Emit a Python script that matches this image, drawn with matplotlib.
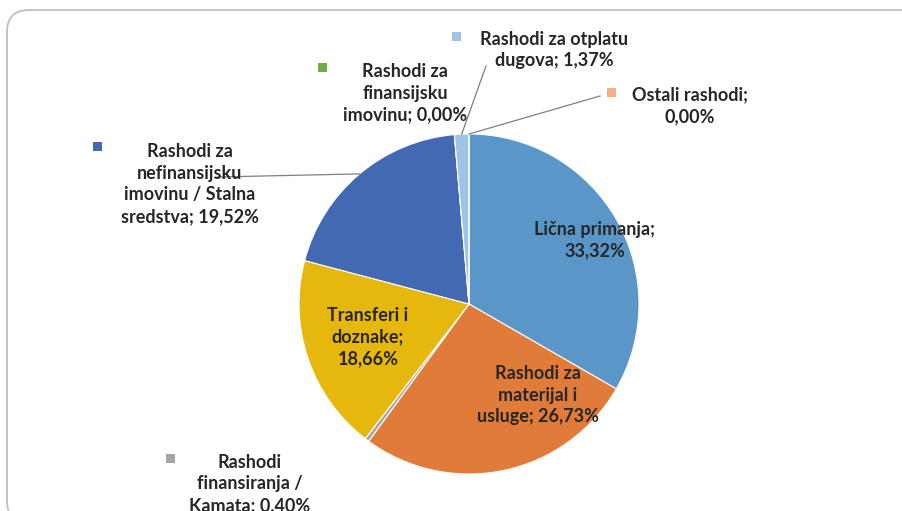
import matplotlib.pyplot as plt
from matplotlib.patches import FancyBboxPatch, Rectangle
from matplotlib.transforms import IdentityTransform
import numpy as np

# slice data, clockwise from 12 o'clock
names = ['Lična primanja', 'Rashodi za\nmaterijal i\nusluge', 'Rashodi\nfinansiranja /\nKamata',
         'Transferi i\ndoznake', 'Rashodi za\nnefinansijsku\nimovinu / Stalna\nsredstva',
         'Rashodi za\nfinansijsku\nimovinu', 'Rashodi za otplatu\ndugova', 'Ostali rashodi']
values = [33.32, 26.73, 0.40, 18.66, 19.52, 0.00, 1.37, 0.00]
colors = ['#5B96C8', '#E07B39', '#A5A5A5', '#E6B70C', '#4269B2', '#70AD47', '#9DC3E6', '#F4B183']

W, H = 902, 511
plt.rcParams['font.family'] = ['Lato', 'DejaVu Sans']

def fp(x, y):
    # pixel (from top-left) -> figure fraction
    return (x / W, 1 - y / H)

def label(i):
    v = ('%.2f' % values[i]).replace('.', ',')
    n = names[i]
    if i in (0, 3, 7):
        return n + ';\n' + v + '%'
    return n + '; ' + v + '%'

fig = plt.figure(figsize=(W / 100, H / 100), dpi=100)

# rounded frame, runs off the right and bottom edges
frame = FancyBboxPatch((7, -12), 3000, H - 10 + 12, boxstyle='round,pad=0,rounding_size=22',
                       transform=IdentityTransform(), facecolor='none', edgecolor='#BFBFBF',
                       linewidth=1.3)
fig.patches.append(frame)

cx, cy, r = 469, 304, 170
ax = fig.add_axes([(cx - r) / W, (H - cy - r) / H, 2 * r / W, 2 * r / H])
ax.pie(values, colors=colors, startangle=90, counterclock=False, radius=1,
       wedgeprops=dict(edgecolor='white', linewidth=0.8))
ax.set_xlim(-1, 1)
ax.set_ylim(-1, 1)
ax.set_aspect('equal')
ax.axis('off')

tkw = dict(fontsize=13, fontweight='bold', color='#262626', ha='center', va='center', linespacing=1.33)

# labels inside slices
for i, (x, y) in {0: (595, 240), 1: (538, 395), 3: (368, 337)}.items():
    fig.text(*fp(x, y), label(i), **tkw)

# outside labels with legend keys
outside = {4: ((190, 184), (97, 147)), 5: ((405, 93), (322, 68)), 6: ((554, 50), (456, 37)),
           7: ((690, 106), (611, 93)), 2: ((250, 484), (170, 458))}
for i, ((x, y), (mx, my)) in outside.items():
    fig.text(*fp(x, y), label(i), **tkw)
    fig.patches.append(Rectangle(fp(mx - 4.5, my + 4.5), 9 / W, 9 / H, transform=fig.transFigure,
                                 facecolor=colors[i], edgecolor='none'))

# leader lines
cum = np.cumsum([0] + values)
def edge(i):
    a = np.deg2rad(90 - (cum[i] + values[i] / 2) * 3.6)
    return (np.cos(a), np.sin(a))

lines = {4: [(217, 177)], 6: [(486, 66)], 7: [(600, 96)]}
for i, pts in lines.items():
    ex, ey = edge(i)
    p = fig.transFigure.inverted().transform(ax.transData.transform((ex, ey)))
    xs = [fp(*q)[0] for q in pts] + [p[0]]
    ys = [fp(*q)[1] for q in pts] + [p[1]]
    fig.add_artist(plt.Line2D(xs, ys, transform=fig.transFigure, color='#7F7F7F', linewidth=0.9))

fig.savefig('out.png', dpi=100)
